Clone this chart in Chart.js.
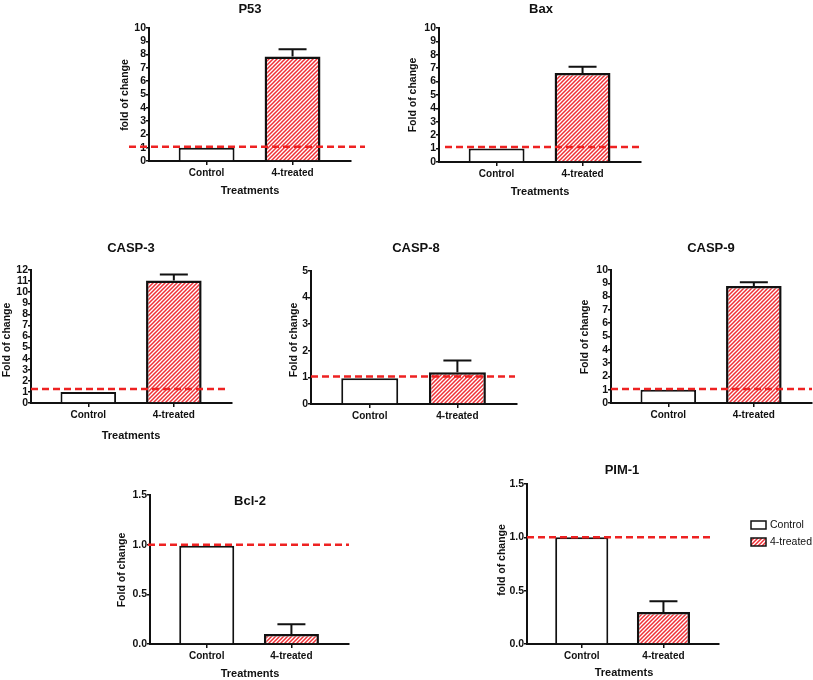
<!DOCTYPE html>
<html>
<head>
<meta charset="utf-8">
<script src="https://cdn.jsdelivr.net/npm/chart.js@4.4.0/dist/chart.umd.min.js"></script>
<style>
  body { margin: 0; background: #fff; }
  #wrap { position: relative; width: 813px; height: 680px; }
  #wrap canvas { position: absolute; left: 0; top: 0; }
</style>
</head>
<body>
<div id="wrap"></div>
<script>
// categories shared by every panel
const categories = ['Control', '4-treated'];

// fold of change
const p53Values = [1.0, 7.85];
const p53Errors = [0, 0.55];
const baxValues = [1.0, 6.65];
const baxErrors = [0, 0.45];
const casp3Values = [1.0, 11.05];
const casp3Errors = [0, 0.55];
const casp8Values = [0.97, 1.19];
const casp8Errors = [0, 0.45];
const casp9Values = [1.0, 8.8];
const casp9Errors = [0, 0.28];
const bcl2Values = [0.99, 0.1];
const bcl2Errors = [0, 0.1];
const pim1Values = [1.0, 0.3];
const pim1Errors = [0, 0.1];

// red dashed reference lines
const refLines = { p53: 1.08, bax: 1.12, casp3: 1.27, casp8: 1.03, casp9: 1.05, bcl2: 1.0, pim1: 1.0 };

// y axis ranges
const yMax = { p53: 10, bax: 10, casp3: 12, casp8: 5, casp9: 10, bcl2: 1.5, pim1: 1.5 };
const yStep = { p53: 1, bax: 1, casp3: 1, casp8: 1, casp9: 1, bcl2: 0.5, pim1: 0.5 };

const W = 813, H = 680;
const Y_W = 28, X_H = 20;
const FONT = '"Liberation Sans", Arial, sans-serif';
const RED = '#ee2222';

function hatchPattern() {
    const c = document.createElement('canvas');
    c.width = c.height = 4;
    const g = c.getContext('2d');
    g.fillStyle = '#fff';
    g.fillRect(0, 0, 4, 4);
    g.strokeStyle = '#ef3036';
    g.lineWidth = 1.5;
    g.beginPath();
    g.moveTo(0, 4); g.lineTo(4, 0);
    g.moveTo(-1, 1); g.lineTo(1, -1);
    g.moveTo(3, 5); g.lineTo(5, 3);
    g.stroke();
    return g.createPattern(c, 'repeat');
}

const panels = [
    { key: 'p53', title: 'P53', values: p53Values, errors: p53Errors, yLabel: 'fold of change', xLabel: 'Treatments',
      area: [149, 28, 351, 161], titleAt: [250, 9], yLabelAt: [125, 95], xLabelAt: [250, 191], dash: [20, 14] },
    { key: 'bax', title: 'Bax', values: baxValues, errors: baxErrors, yLabel: 'Fold of change', xLabel: 'Treatments',
      area: [439, 28, 641, 162], titleAt: [541, 9], yLabelAt: [413, 95], xLabelAt: [540, 192], dash: [-6, 0] },
    { key: 'casp3', title: 'CASP-3', values: casp3Values, errors: casp3Errors, yLabel: 'Fold of change', xLabel: 'Treatments',
      area: [31, 270, 232, 403], titleAt: [131, 248], yLabelAt: [7, 340], xLabelAt: [131, 436], dash: [0, -4] },
    { key: 'casp8', title: 'CASP-8', values: casp8Values, errors: casp8Errors, yLabel: 'Fold of change', xLabel: '',
      area: [311, 271, 517, 404], titleAt: [416, 248], yLabelAt: [294, 340], xLabelAt: null, dash: [0, -2] },
    { key: 'casp9', title: 'CASP-9', values: casp9Values, errors: casp9Errors, yLabel: 'Fold of change', xLabel: '',
      area: [611, 270, 812, 403], titleAt: [711, 248], yLabelAt: [585, 337], xLabelAt: null, dash: [0, 0] },
    { key: 'bcl2', title: 'Bcl-2', values: bcl2Values, errors: bcl2Errors, yLabel: 'Fold of change', xLabel: 'Treatments',
      area: [150, 495, 349, 644], titleAt: [250, 501], yLabelAt: [122, 570], xLabelAt: [250, 674], dash: [2, 0] },
    { key: 'pim1', title: 'PIM-1', values: pim1Values, errors: pim1Errors, yLabel: 'fold of change', xLabel: 'Treatments',
      area: [527, 484, 719, 644], titleAt: [622, 470], yLabelAt: [502, 560], xLabelAt: [624, 673], dash: [0, -6], legend: true }
];

const extrasPlugin = {
    id: 'extras',
    afterDatasetsDraw(chart, args, opts) {
        const p = opts.panel;
        const ctx = chart.ctx;
        const y = chart.scales.y;
        const meta = chart.getDatasetMeta(0);
        ctx.save();
        // error bars
        ctx.strokeStyle = '#111';
        ctx.lineWidth = 2;
        p.values.forEach((v, i) => {
            if (!p.errors[i]) return;
            const bar = meta.data[i];
            const top = y.getPixelForValue(v + p.errors[i]);
            ctx.beginPath();
            ctx.moveTo(bar.x, y.getPixelForValue(v));
            ctx.lineTo(bar.x, top);
            ctx.moveTo(bar.x - 14, top);
            ctx.lineTo(bar.x + 14, top);
            ctx.stroke();
        });
        // red dashed reference line
        const ry = y.getPixelForValue(refLines[p.key]);
        ctx.strokeStyle = RED;
        ctx.lineWidth = 2.5;
        ctx.setLineDash([7, 4]);
        ctx.beginPath();
        ctx.moveTo(chart.chartArea.left - p.dash[0], ry);
        ctx.lineTo(chart.chartArea.right + p.dash[1], ry);
        ctx.stroke();
        ctx.setLineDash([]);
        // texts
        ctx.fillStyle = '#111';
        ctx.textAlign = 'center';
        ctx.textBaseline = 'middle';
        ctx.font = 'bold 13px ' + FONT;
        ctx.fillText(p.title, p.titleAt[0], p.titleAt[1]);
        if (p.xLabelAt) {
            ctx.font = 'bold 11px ' + FONT;
            ctx.fillText(p.xLabel, p.xLabelAt[0], p.xLabelAt[1]);
        }
        ctx.save();
        ctx.translate(p.yLabelAt[0], p.yLabelAt[1]);
        ctx.rotate(-Math.PI / 2);
        ctx.font = 'bold 10.5px ' + FONT;
        ctx.fillText(p.yLabel, 0, 0);
        ctx.restore();
        // legend
        if (p.legend) {
            const fills = ['#fff', opts.hatch];
            categories.forEach((c, i) => {
                const ly = 525 + i * 17;
                ctx.fillStyle = fills[i];
                ctx.fillRect(751, ly - 4, 15, 8);
                ctx.strokeStyle = '#111';
                ctx.lineWidth = 1.5;
                ctx.strokeRect(751, ly - 4, 15, 8);
                ctx.fillStyle = '#111';
                ctx.textAlign = 'left';
                ctx.font = '10.5px ' + FONT;
                ctx.fillText(c, 770, ly);
            });
        }
        ctx.restore();
    }
};

const wrap = document.getElementById('wrap');

panels.forEach(p => {
    const canvas = document.createElement('canvas');
    canvas.width = W;
    canvas.height = H;
    wrap.appendChild(canvas);
    const hatch = hatchPattern();
    const [l, t, r, b] = p.area;
    const decimals = yStep[p.key] < 1 ? 1 : 0;

    new Chart(canvas.getContext('2d'), {
        type: 'bar',
        data: {
            datasets: [{
                data: p.values.map((v, i) => ({ x: i + 1, y: v })),
                backgroundColor: ['#fff', hatch],
                borderColor: '#111',
                borderWidth: [2, 2.5],
                categoryPercentage: 1,
                barPercentage: 0.65
            }]
        },
        options: {
            responsive: false,
            animation: false,
            devicePixelRatio: 1,
            layout: { padding: { left: l - Y_W, top: t, right: W - r, bottom: H - b - X_H } },
            plugins: {
                legend: { display: false },
                tooltip: { enabled: false },
                extras: { panel: p, hatch: hatch }
            },
            scales: {
                x: {
                    type: 'linear',
                    min: 0.33,
                    max: 2.68,
                    offset: false,
                    afterBuildTicks: s => { s.ticks = [{ value: 1 }, { value: 2 }]; },
                    afterFit: s => { s.height = X_H; },
                    ticks: {
                        callback: v => categories[v - 1],
                        color: '#111',
                        font: { family: FONT, size: 10, weight: 'bold' },
                        padding: 2,
                        maxRotation: 0,
                        autoSkip: false
                    },
                    grid: { drawOnChartArea: false, drawTicks: true, tickLength: 4, color: '#111', lineWidth: 1.5, offset: false },
                    border: { color: '#111', width: 2 }
                },
                y: {
                    min: 0,
                    max: yMax[p.key],
                    afterFit: s => { s.width = Y_W; },
                    ticks: {
                        stepSize: yStep[p.key],
                        callback: v => Number(v).toFixed(decimals),
                        color: '#111',
                        font: { family: FONT, size: 10.5, weight: 'bold' },
                        padding: 0,
                        autoSkip: false
                    },
                    grid: { drawOnChartArea: false, drawTicks: true, tickLength: 3, color: '#111', lineWidth: 1.5 },
                    border: { color: '#111', width: 2 }
                }
            }
        },
        plugins: [extrasPlugin]
    });
});
</script>
</body>
</html>
